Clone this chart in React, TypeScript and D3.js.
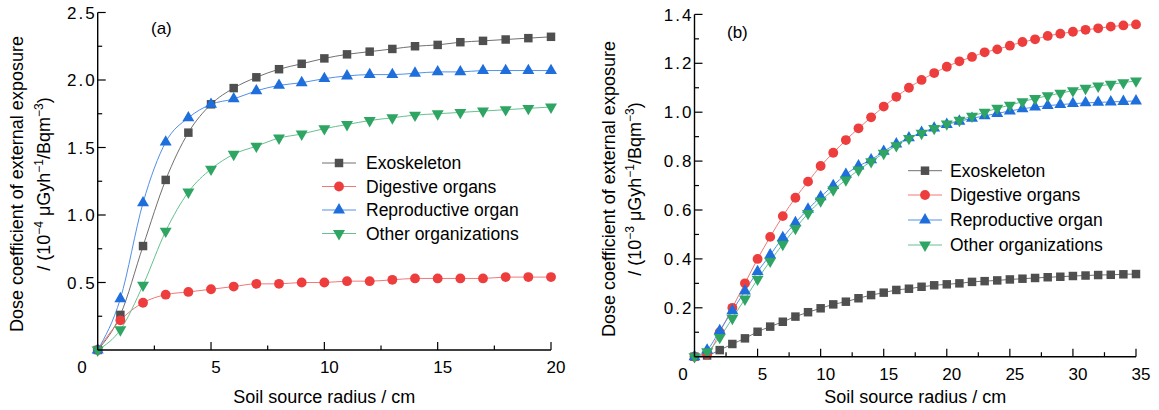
import React from "react";
import * as d3 from "d3";

// ---- data ----
const seriesNames = ["Exoskeleton", "Digestive organs", "Reproductive organ", "Other organizations"];

const radiusA = [0, 1, 2, 3, 4, 5, 6, 7, 8, 9, 10, 11, 12, 13, 14, 15, 16, 17, 18, 19, 20];
const exoA = [0, 0.26, 0.77, 1.26, 1.61, 1.82, 1.94, 2.02, 2.08, 2.12, 2.16, 2.19, 2.21, 2.23, 2.25, 2.26, 2.28, 2.29, 2.3, 2.31, 2.32];
const digA = [0, 0.22, 0.35, 0.41, 0.43, 0.45, 0.47, 0.49, 0.49, 0.5, 0.5, 0.51, 0.51, 0.52, 0.53, 0.53, 0.53, 0.53, 0.54, 0.54, 0.54];
const repA = [0, 0.38, 1.09, 1.54, 1.72, 1.82, 1.86, 1.92, 1.96, 1.98, 2.01, 2.03, 2.04, 2.04, 2.05, 2.06, 2.06, 2.07, 2.07, 2.07, 2.07];
const othA = [0, 0.15, 0.48, 0.88, 1.17, 1.34, 1.45, 1.51, 1.57, 1.6, 1.64, 1.67, 1.7, 1.72, 1.74, 1.75, 1.76, 1.77, 1.78, 1.79, 1.8];

const radiusB = [0, 1, 2, 3, 4, 5, 6, 7, 8, 9, 10, 11, 12, 13, 14, 15, 16, 17, 18, 19, 20, 21, 22, 23, 24, 25, 26, 27, 28, 29, 30, 31, 32, 33, 34, 35];
const exoB = [0, 0.005, 0.027, 0.052, 0.075, 0.102, 0.123, 0.143, 0.164, 0.182, 0.198, 0.214, 0.225, 0.239, 0.252, 0.262, 0.273, 0.278, 0.286, 0.292, 0.296, 0.3, 0.306, 0.309, 0.312, 0.316, 0.319, 0.322, 0.325, 0.327, 0.33, 0.332, 0.334, 0.335, 0.337, 0.338];
const digB = [0, 0.01, 0.1, 0.2, 0.3, 0.4, 0.49, 0.575, 0.65, 0.716, 0.78, 0.834, 0.886, 0.934, 0.979, 1.023, 1.063, 1.1, 1.132, 1.16, 1.186, 1.208, 1.226, 1.245, 1.257, 1.272, 1.287, 1.298, 1.312, 1.321, 1.329, 1.337, 1.343, 1.35, 1.355, 1.359];
const repB = [0, 0.027, 0.106, 0.188, 0.269, 0.348, 0.416, 0.487, 0.548, 0.603, 0.654, 0.7, 0.746, 0.78, 0.805, 0.84, 0.87, 0.895, 0.917, 0.935, 0.95, 0.963, 0.975, 0.985, 0.995, 1.005, 1.014, 1.021, 1.027, 1.031, 1.035, 1.038, 1.04, 1.042, 1.044, 1.046];
const othB = [0, 0.02, 0.079, 0.157, 0.236, 0.317, 0.391, 0.46, 0.525, 0.586, 0.637, 0.682, 0.723, 0.764, 0.798, 0.832, 0.863, 0.893, 0.914, 0.934, 0.952, 0.967, 0.984, 1.0, 1.016, 1.029, 1.043, 1.056, 1.067, 1.078, 1.088, 1.098, 1.107, 1.114, 1.121, 1.128];

const xTicksA = [5, 10, 15, 20];
const yTicksA = [0.5, 1.0, 1.5, 2.0, 2.5];
const xTicksB = [5, 10, 15, 20, 25, 30, 35];
const yTicksB = [0.2, 0.4, 0.6, 0.8, 1.0, 1.2, 1.4];

// ---- styles ----
const FONT = "'Liberation Sans', Arial, sans-serif";
const markFill = ["#4f4f4f", "#ee3d3d", "#1e6edb", "#2ea563"];
const lineCol = ["#707070", "#f07878", "#5290e6", "#66c18f"];
const symbols = [
  d3.symbol().type(d3.symbolSquare).size(72)(),
  d3.symbol().type(d3.symbolCircle).size(76)(),
  d3.symbol().type(d3.symbolTriangle).size(62)(),
  d3.symbol().type(d3.symbolTriangle).size(62)(),
];
const symRot = [0, 0, 0, 180];

function Marker({ i, x, y }) {
  return (
    <path
      d={symbols[i] || ""}
      fill={markFill[i]}
      transform={`translate(${x},${y}) rotate(${symRot[i]})`}
    />
  );
}

function Panel(props) {
  const {
    xs, ys, xDomain, yDomain, xRange, yRange, xTicks, xMinorStep, yTicks, yMinorStep,
    tag, tagPos, legend, expo, title1X, title2X, titleY, zeroPos,
  } = props;
  const x = d3.scaleLinear().domain(xDomain).range(xRange);
  const y = d3.scaleLinear().domain(yDomain).range(yRange);
  const x0 = xRange[0];
  const y0 = yRange[0];
  const xMinor = d3.range(xDomain[0] + xMinorStep, xDomain[1] + 1e-9, xMinorStep).filter(
    (v) => !xTicks.some((t) => Math.abs(t - v) < 1e-6)
  );
  const yMinor = d3.range(yDomain[0] + yMinorStep, yDomain[1] + 1e-9, yMinorStep).filter(
    (v) => !yTicks.some((t) => Math.abs(t - v) < 1e-6)
  );
  const line = d3
    .line()
    .x((d) => x(d[0]))
    .y((d) => y(d[1]))
    .curve(d3.curveMonotoneX);

  return (
    <g fontFamily={FONT}>
      {/* series */}
      {ys.map((vals, i) => (
        <path
          key={"l" + i}
          d={line(xs.map((v, k) => [v, vals[k]])) || ""}
          fill="none"
          stroke={lineCol[i]}
          strokeWidth={1}
        />
      ))}
      {ys.map((vals, i) => (
        <g key={"m" + i}>
          {xs.map((v, k) => (
            <Marker key={k} i={i} x={x(v)} y={y(vals[k])} />
          ))}
        </g>
      ))}

      {/* axes */}
      <line x1={x0} x2={x0} y1={y0} y2={y(yDomain[1])} stroke="#000" strokeWidth={1.4} />
      <line x1={x0} x2={x(xDomain[1])} y1={y0} y2={y0} stroke="#000" strokeWidth={1.4} />
      {xTicks.map((t) => (
        <g key={"xt" + t}>
          <line x1={x(t)} x2={x(t)} y1={y0} y2={y0 - 8} stroke="#000" strokeWidth={1.2} />
          <text x={x(t) + 5} y={y0 + 23} textAnchor="middle" fontSize={17}>
            {t}
          </text>
        </g>
      ))}
      {xMinor.map((t) => (
        <line key={"xm" + t} x1={x(t)} x2={x(t)} y1={y0} y2={y0 - 4.5} stroke="#000" strokeWidth={1.2} />
      ))}
      {yTicks.map((t) => (
        <g key={"yt" + t}>
          <line x1={x0} x2={x0 + 8} y1={y(t)} y2={y(t)} stroke="#000" strokeWidth={1.2} />
          <text
            x={x0 - 1}
            y={y(t)}
            dy="0.36em"
            textAnchor="end"
            fontSize={17}
            letterSpacing={2}
          >
            {t.toFixed(1)}
          </text>
        </g>
      ))}
      {yMinor.map((t) => (
        <line key={"ym" + t} x1={x0} x2={x0 + 4.5} y1={y(t)} y2={y(t)} stroke="#000" strokeWidth={1.2} />
      ))}
      <text x={zeroPos[0]} y={zeroPos[1]} textAnchor="middle" fontSize={17}>0</text>

      {/* panel tag */}
      <text x={tagPos[0]} y={tagPos[1]} fontSize={17}>{tag}</text>

      {/* axis titles */}
      <text x={(xRange[0] + xRange[1]) / 2} y={403} textAnchor="middle" fontSize={18}>
        Soil source radius / cm
      </text>
      <text transform={`translate(${title1X},${titleY}) rotate(-90)`} textAnchor="middle" fontSize={18}>
        Dose coefficient of external exposure
      </text>
      <text transform={`translate(${title2X},${titleY}) rotate(-90)`} textAnchor="middle" fontSize={18}>
        <tspan>/ (10</tspan>
        <tspan fontSize={12} dy={-7}>{"\u2212" + expo}</tspan>
        <tspan dy={7}>{" \u03bcGyh"}</tspan>
        <tspan fontSize={12} dy={-7}>{"\u22121"}</tspan>
        <tspan dy={7}>/Bqm</tspan>
        <tspan fontSize={12} dy={-7}>{"\u22123"}</tspan>
        <tspan dy={7}>)</tspan>
      </text>

      {/* legend */}
      {seriesNames.map((name, i) => {
        const ry = legend.rows[i];
        return (
          <g key={"lg" + i}>
            <line x1={legend.x} x2={legend.x + 34} y1={ry} y2={ry} stroke={lineCol[i]} strokeWidth={1} />
            <Marker i={i} x={legend.x + 17} y={ry} />
            <text x={legend.tx} y={ry} dy="0.36em" fontSize={17.5}>
              {name}
            </text>
          </g>
        );
      })}
    </g>
  );
}

export default function App() {
  return (
    <svg
      width={1159}
      height={410}
      style={{ position: "absolute", left: 0, top: 0, background: "#fff" }}
    >
      <Panel
        xs={radiusA}
        ys={[exoA, digA, repA, othA]}
        xDomain={[0, 20]}
        yDomain={[0, 2.5]}
        xRange={[97.7, 551]}
        yRange={[350, 12.5]}
        xTicks={xTicksA}
        xMinorStep={2.5}
        yTicks={yTicksA}
        yMinorStep={0.25}
        tag="(a)"
        tagPos={[151, 34]}
        legend={{ x: 322, tx: 366, rows: [163, 186.5, 210, 233.5] }}
        expo="4"
        title1X={23}
        title2X={50}
        titleY={184}
        zeroPos={[82, 373]}
      />
      <Panel
        xs={radiusB}
        ys={[exoB, digB, repB, othB]}
        xDomain={[0, 35]}
        yDomain={[0, 1.4]}
        xRange={[694.5, 1136]}
        yRange={[356.7, 14.4]}
        xTicks={xTicksB}
        xMinorStep={2.5}
        yTicks={yTicksB}
        yMinorStep={0.1}
        tag="(b)"
        tagPos={[727, 38]}
        legend={{ x: 908, tx: 950, rows: [170.7, 195, 220, 245] }}
        expo="3"
        title1X={615}
        title2X={641}
        titleY={189}
        zeroPos={[683, 380]}
      />
    </svg>
  );
}
